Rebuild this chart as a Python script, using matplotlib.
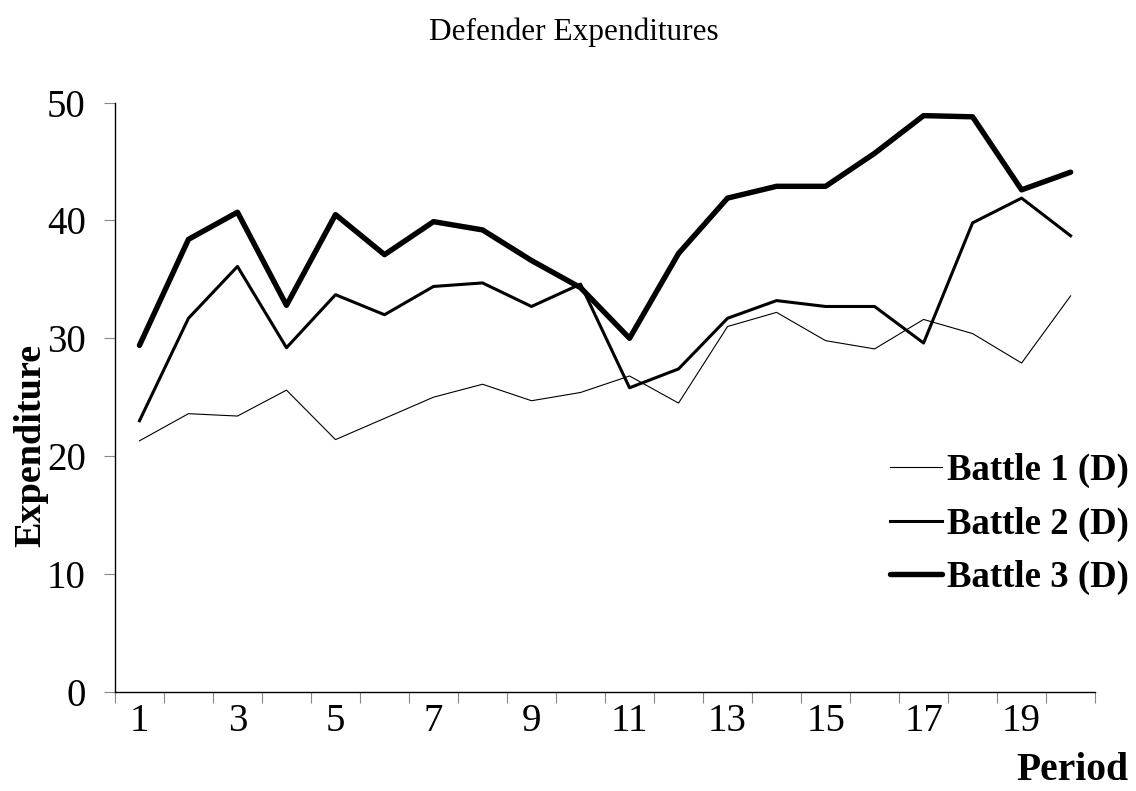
import matplotlib
matplotlib.use('Agg')
import matplotlib.pyplot as plt
import numpy as np

plt.rcParams['font.family'] = ['Liberation Serif', 'DejaVu Serif']

# periods 1..20
periods = np.arange(1, 21)

battle1 = [21.3, 23.6, 23.4, 25.6, 21.4, 23.2, 25.0, 26.1, 24.7, 25.4,
           26.8, 24.5, 31.0, 32.2, 29.8, 29.1, 31.6, 30.4, 27.9, 33.6]
battle2 = [23.0, 31.7, 36.1, 29.2, 33.7, 32.0, 34.4, 34.7, 32.7, 34.6,
           25.8, 27.4, 31.7, 33.2, 32.7, 32.7, 29.6, 39.8, 41.9, 38.7]
battle3 = [29.4, 38.4, 40.7, 32.8, 40.5, 37.1, 39.9, 39.2, 36.6, 34.3,
           30.0, 37.2, 41.9, 42.9, 42.9, 45.7, 48.9, 48.8, 42.6, 44.1]

series_names = ['Battle 1 (D)', 'Battle 2 (D)', 'Battle 3 (D)']
yticks = [0, 10, 20, 30, 40, 50]
xtick_labels = [1, 3, 5, 7, 9, 11, 13, 15, 17, 19]

fig = plt.figure(figsize=(11.36, 7.91), dpi=100)
ax = fig.add_axes([0.1012, 0.1255, 0.8628, 0.7447])

ax.plot(periods, battle1, color='black', lw=0.8, label=series_names[0])
ax.plot(periods, battle2, color='black', lw=2.2, label=series_names[1])
ax.plot(periods, battle3, color='black', lw=3.9, label=series_names[2],
        solid_capstyle='round')

ax.set_xlim(0.5, 20.5)
ax.set_ylim(0, 50)

ax.spines['top'].set_visible(False)
ax.spines['right'].set_visible(False)
ax.spines['left'].set_linewidth(1.0)
ax.spines['bottom'].set_linewidth(1.0)

ax.set_yticks(yticks)
ax.tick_params(axis='y', direction='out', length=8, width=0.8, color='#888888',
               labelsize=28, pad=13)

# labels at odd periods, tick marks at period boundaries
ax.set_xticks(xtick_labels)
ax.set_xticklabels([str(v) for v in xtick_labels])
ax.set_xticks(np.arange(0.5, 21, 1), minor=True)
ax.tick_params(axis='x', which='major', length=0, labelsize=28, pad=8)
ax.tick_params(axis='x', which='minor', direction='out', length=8, width=0.8,
               color='#888888')

fig.text(0.505, 0.959, 'Defender Expenditures', ha='center', va='center',
         fontsize=22.5)
fig.text(0.027, 0.437, 'Expenditure', rotation=90, ha='center', va='center',
         fontsize=27.5, fontweight='bold')
fig.text(0.993, 0.014, 'Period', ha='right', va='baseline',
         fontsize=28.5, fontweight='bold')

leg = ax.legend(loc='center left', bbox_to_anchor=(0.7835, 0.3375),
                bbox_transform=fig.transFigure, frameon=False,
                prop={'size': 26.5, 'weight': 'bold'}, handlelength=1.4,
                handletextpad=0.15, labelspacing=0.5, borderpad=0,
                borderaxespad=0)

fig.savefig('out.png', dpi=100)
